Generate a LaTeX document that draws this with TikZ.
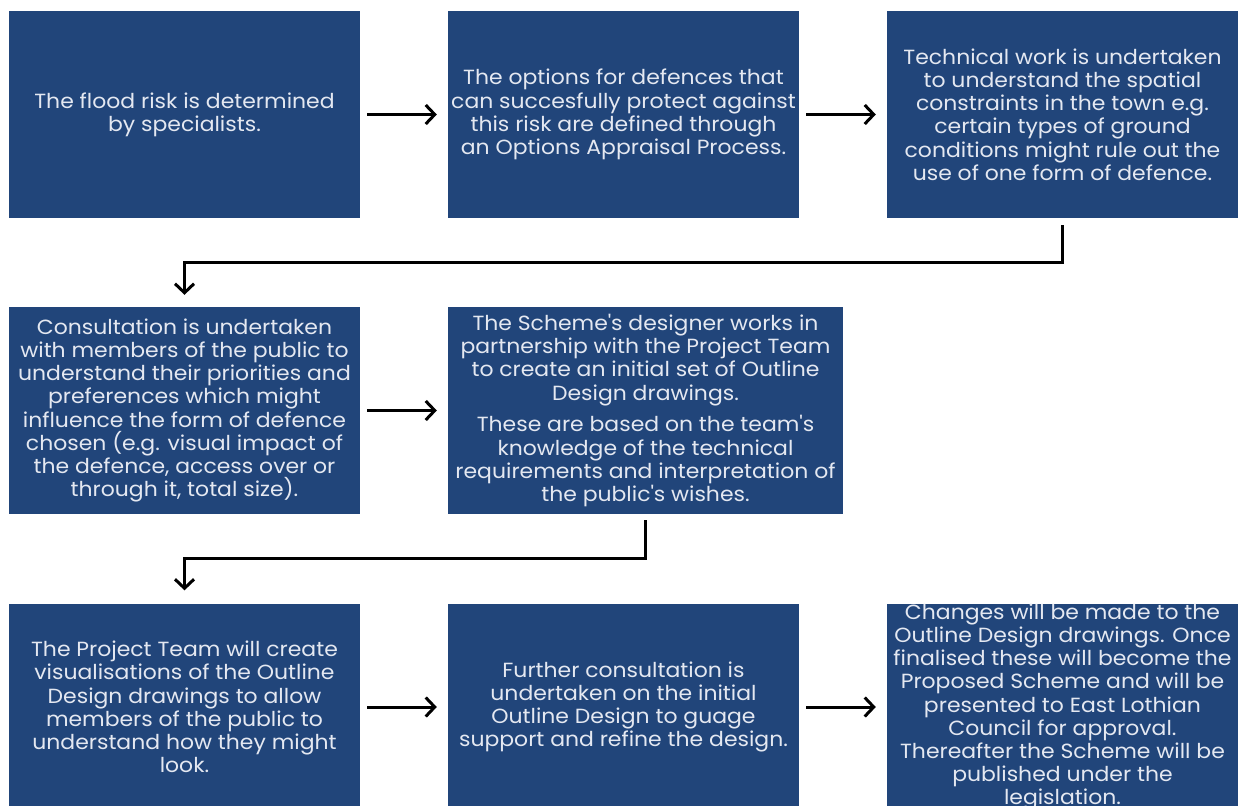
\documentclass[tikz,border=0pt]{standalone}
\usepackage{fontspec}
\setmainfont{Poppins}[FakeStretch=1.07]
\usetikzlibrary{arrows.meta}
\definecolor{boxblue}{HTML}{21457A}
\definecolor{boxtext}{HTML}{E4E8F1}
\newcommand{\apos}{\textquotesingle}
\begin{document}
\begin{tikzpicture}[x=1pt,y=-1pt,
  stepbox/.style={fill=boxblue, draw=none, inner sep=0pt, minimum height=207pt,
    text=boxtext, align=center, font=\fontsize{20.5}{23.2}\selectfont},
  flow/.style={draw=black, line width=3pt,
    -{Straight Barb[length=9pt,width=19pt,line width=3pt]}}
]
\useasboundingbox (0,0) rectangle (1243,806);
\clip (0,0) rectangle (1243,806);

% first row
\node[stepbox, minimum width=351pt] (b1) at (184.5,114.5)
  {The flood risk is determined\\by specialists.};
\node[stepbox, minimum width=351pt] (b2) at (623.5,114.5)
  {The options for defences that\\can succesfully protect against\\this risk are defined through\\an Options Appraisal Process.};
\node[stepbox, minimum width=351pt] (b3) at (1062.5,114.5)
  {Technical work is undertaken\\to understand the spatial\\constraints in the town e.g.\\certain types of ground\\conditions might rule out the\\use of one form of defence.};

% second row
\node[stepbox, minimum width=351pt] (b4) at (184.5,410.5)
  {Consultation is undertaken\\with members of the public to\\understand their priorities and\\preferences which might\\influence the form of defence\\chosen (e.g. visual impact of\\the defence, access over or\\through it, total size).};
\node[stepbox, minimum width=395pt] (b5) at (645.5,410.5)
  {The Scheme\apos s designer works in\\partnership with the Project Team\\to create an initial set of Outline\\Design drawings.\\[8.5pt]These are based on the team\apos s\\knowledge of the technical\\requirements and interpretation of\\the public\apos s wishes.};

% third row
\node[stepbox, minimum width=351pt] (b6) at (184.5,707)
  {The Project Team will create\\visualisations of the Outline\\Design drawings to allow\\members of the public to\\understand how they might\\look.};
\node[stepbox, minimum width=351pt] (b7) at (623.5,707)
  {Further consultation is\\undertaken on the initial\\Outline Design to guage\\support and refine the design.};
\node[stepbox, minimum width=351pt] (b8) at (1062.5,707)
  {Changes will be made to the\\Outline Design drawings. Once\\finalised these will become the\\Proposed Scheme and will be\\presented to East Lothian\\Council for approval.\\Thereafter the Scheme will be\\published under the\\legislation.};

% connectors within rows
\draw[flow, shorten <=7pt, shorten >=11pt] (b1) -- (b2);
\draw[flow, shorten <=7pt, shorten >=11pt] (b2) -- (b3);
\draw[flow, shorten <=7pt, shorten >=11pt] (b4) -- (b5 -| b2.west);
\draw[flow, shorten <=7pt, shorten >=11pt] (b6) -- (b7);
\draw[flow, shorten <=7pt, shorten >=11pt] (b7) -- (b8);

% connectors between rows
\draw[flow, shorten <=7pt, shorten >=12pt] (b3.south) -- ++(0,44) -| (b4.north);
\draw[flow, shorten <=6pt, shorten >=13pt] (b5.south) -- ++(0,44) -| (b6.north);
\end{tikzpicture}
\end{document}
